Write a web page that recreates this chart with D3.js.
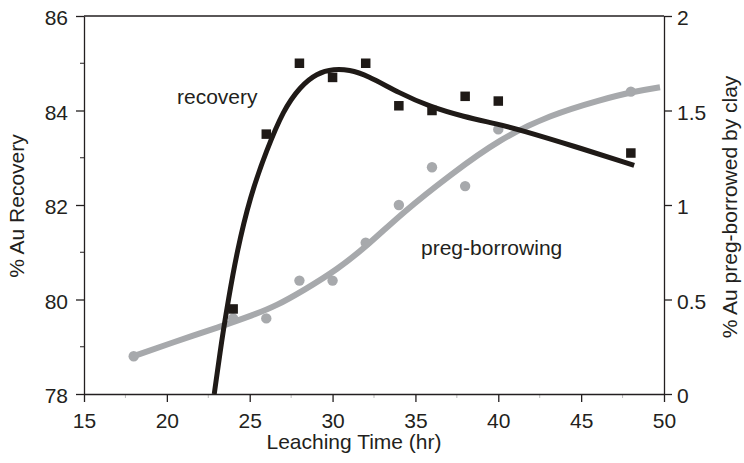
<!DOCTYPE html>
<html><head><meta charset="utf-8">
<script src="https://cdn.jsdelivr.net/npm/d3@7"></script>
<style>
body{margin:0;background:#fff;}
text{font-family:"Liberation Sans",Arial,Helvetica,sans-serif;fill:#231f20;}
</style></head>
<body><svg id="c" width="744" height="463"></svg>
<script>
// Data
const recoveryTime = [24, 26, 28, 30, 32, 34, 36, 38, 40, 48];
const recoveryPct = [79.8, 83.5, 85.0, 84.7, 85.0, 84.1, 84.0, 84.3, 84.2, 83.1];
const pregTime = [18, 24, 26, 28, 30, 32, 34, 36, 38, 40, 48];
const pregPct = [0.2, 0.4, 0.4, 0.6, 0.6, 0.8, 1.0, 1.2, 1.1, 1.4, 1.6];
// fitted curves
const recFitX = [22.86, 23.31, 23.71, 24.21, 25.02, 26.02, 27.03, 28.03, 29.04, 30.1, 31.0, 32.06, 34.07, 35.88, 37.89, 40.0, 41.31, 44.53, 48.2];
const recFitY = [78.0, 79.14, 79.99, 80.98, 82.18, 83.16, 84.01, 84.50, 84.79, 84.88, 84.86, 84.75, 84.36, 84.08, 83.87, 83.71, 83.59, 83.25, 82.84];
const pregFitX = [17.98, 20.19, 23.21, 25.22, 26.63, 28.24, 30.25, 32.26, 34.17, 37.09, 40.1, 43.12, 46.14, 48.15, 49.76];
const pregFitY = [0.20, 0.268, 0.356, 0.418, 0.468, 0.548, 0.656, 0.797, 0.956, 1.159, 1.350, 1.476, 1.556, 1.600, 1.623];
const xTicks = [15, 20, 25, 30, 35, 40, 45, 50];
const xMinor = [17.5, 22.5, 27.5, 32.5, 37.5, 42.5, 47.5];
const yLeftTicks = [78, 80, 82, 84, 86];
const yLeftMinor = [79, 81, 83, 85];
const yRightTicks = [0, 0.5, 1, 1.5, 2];

const svg = d3.select("#c");
const L = 84, R = 664, T = 16, B = 394;
const x = d3.scaleLinear().domain([15, 50]).range([L, R]);
const yL = d3.scaleLinear().domain([78, 86]).range([B, T]);
const yR = d3.scaleLinear().domain([0, 2]).range([B, T]);
const ink = "#231f20";
const FS = 21;

// frame top line
svg.append("line").attr("x1", L).attr("x2", R).attr("y1", T).attr("y2", T)
  .attr("stroke", ink).attr("stroke-width", 1.3);

// minor ticks
svg.append("g").selectAll("line").data(xMinor).join("line")
  .attr("x1", d => x(d)).attr("x2", d => x(d)).attr("y1", B).attr("y2", B + 4)
  .attr("stroke", "#bbb").attr("stroke-width", 1);
svg.append("g").selectAll("line").data(yLeftMinor).join("line")
  .attr("x1", L - 4).attr("x2", L).attr("y1", d => yL(d)).attr("y2", d => yL(d))
  .attr("stroke", ink).attr("stroke-width", 1);

function styleAxis(g) {
  g.attr("font-size", FS);
  g.selectAll("path").attr("stroke", ink).attr("stroke-width", 1.3);
  g.selectAll("line").attr("stroke", ink).attr("stroke-width", 1.3);
  g.selectAll("text").attr("font-size", FS).attr("fill", ink)
    .attr("font-family", '"Liberation Sans",Arial,sans-serif');
}

const gx = svg.append("g").attr("transform", `translate(0,${B})`)
  .call(d3.axisBottom(x).tickValues(xTicks).tickSize(8).tickSizeOuter(0).tickPadding(11).tickFormat(d3.format("d")));
styleAxis(gx);

const gl = svg.append("g").attr("transform", `translate(${L},0)`)
  .call(d3.axisLeft(yL).tickValues(yLeftTicks).tickSize(8).tickSizeOuter(0).tickPadding(8).tickFormat(d3.format("d")));
styleAxis(gl);
gl.selectAll("text").attr("dy", "0.42em");

const gr = svg.append("g").attr("transform", `translate(${R},0)`)
  .call(d3.axisRight(yR).tickValues(yRightTicks).tickSize(8).tickSizeOuter(0).tickPadding(5).tickFormat(d => String(d)));
styleAxis(gr);
gr.selectAll("text").attr("dy", "0.42em");

// axis titles
svg.append("text").attr("x", 354).attr("y", 449).attr("text-anchor", "middle")
  .attr("font-size", FS).text("Leaching Time (hr)");
svg.append("text").attr("transform", "translate(24,206) rotate(-90)").attr("text-anchor", "middle")
  .attr("font-size", FS).text("% Au Recovery");
svg.append("text").attr("transform", "translate(737,207) rotate(-90)").attr("text-anchor", "middle")
  .attr("font-size", FS).text("% Au preg-borrowed by clay");

// gray fit curve
const pregFit = pregFitX.map((d, i) => [d, pregFitY[i]]);
svg.append("path").datum(pregFit)
  .attr("d", d3.line().x(d => x(d[0])).y(d => yR(d[1])).curve(d3.curveBasis))
  .attr("fill", "none").attr("stroke", "#a7a9ac").attr("stroke-width", 6);

// gray points
svg.append("g").selectAll("circle").data(pregTime.map((d, i) => [d, pregPct[i]])).join("circle")
  .attr("cx", d => x(d[0])).attr("cy", d => yR(d[1])).attr("r", 5.2).attr("fill", "#a7a9ac");

// black fit curve
const recFit = recFitX.map((d, i) => [d, recFitY[i]]);
svg.append("path").datum(recFit)
  .attr("d", d3.line().x(d => x(d[0])).y(d => yL(d[1])).curve(d3.curveBasis))
  .attr("fill", "none").attr("stroke", "#1f1a17").attr("stroke-width", 5);

// black squares
const s = 9.5;
svg.append("g").selectAll("rect").data(recoveryTime.map((d, i) => [d, recoveryPct[i]])).join("rect")
  .attr("x", d => x(d[0]) - s / 2).attr("y", d => yL(d[1]) - s / 2)
  .attr("width", s).attr("height", s).attr("fill", "#1f1a17");

// annotations
svg.append("text").attr("x", 177).attr("y", 104).attr("font-size", FS).text("recovery");
svg.append("text").attr("x", 421).attr("y", 255).attr("font-size", FS).text("preg-borrowing");
</script></body></html>
